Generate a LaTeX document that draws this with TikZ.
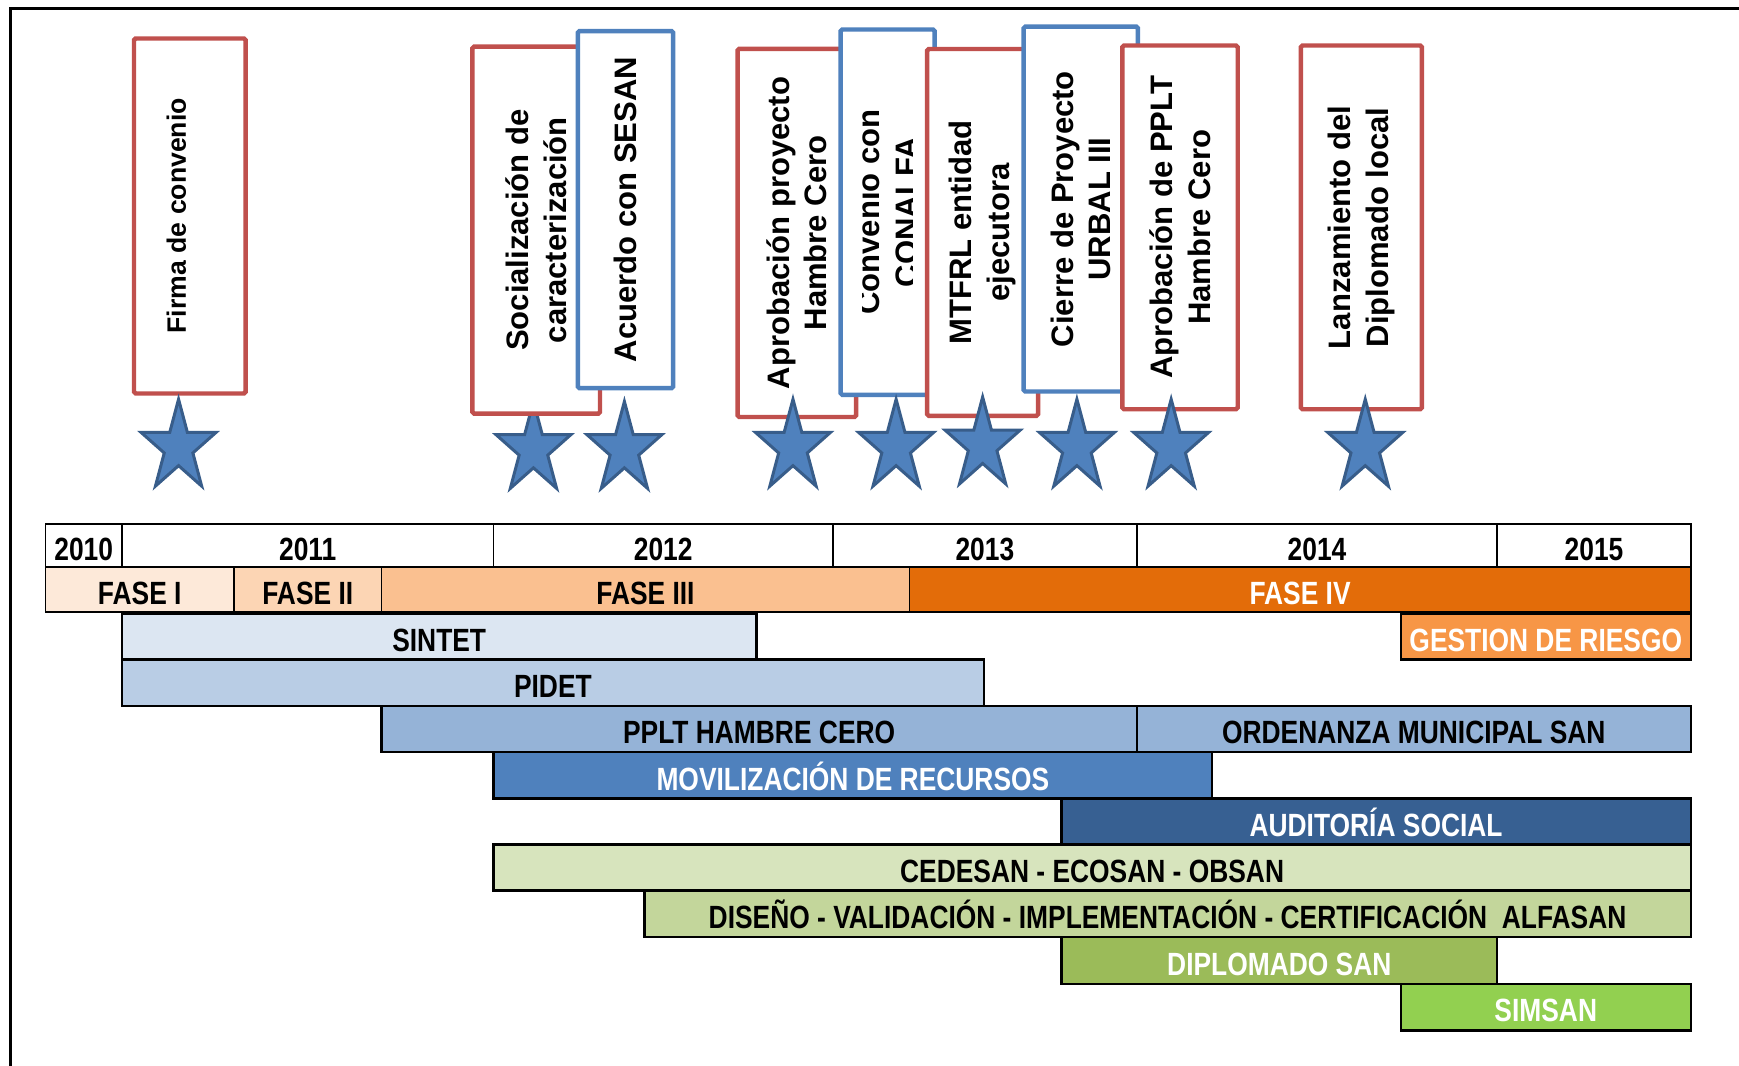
\documentclass[tikz,border=0pt]{standalone}
\usepackage{fontspec}
\usetikzlibrary{shapes.geometric}
\newfontfamily\barfont{Liberation Sans}[FakeStretch=0.82]
\newfontfamily\boxfont{Liberation Sans}
\definecolor{cred}{HTML}{C0504D}
\definecolor{cblue}{HTML}{4F81BD}
\definecolor{starfill}{HTML}{4F81BD}
\definecolor{stardark}{HTML}{385D8A}
\definecolor{faseA}{HTML}{FDE9D9}
\definecolor{faseB}{HTML}{FCD5B4}
\definecolor{faseC}{HTML}{FAC090}
\definecolor{faseD}{HTML}{E36C09}
\definecolor{riesgo}{HTML}{F79646}
\definecolor{blueA}{HTML}{DCE6F2}
\definecolor{blueB}{HTML}{B9CDE5}
\definecolor{blueC}{HTML}{95B3D7}
\definecolor{blueD}{HTML}{4F81BD}
\definecolor{blueE}{HTML}{376092}
\definecolor{greenA}{HTML}{D7E4BD}
\definecolor{greenB}{HTML}{C3D69B}
\definecolor{greenC}{HTML}{9BBB59}
\definecolor{greenD}{HTML}{92D050}
\newcommand\mkbar[9]{%
  \pgfmathsetmacro\mkw{#4-#2}%
  \pgfmathsetmacro\mkh{#5-#3}%
  \node[#9, fill=#6, text=#7, minimum width=\mkw pt, minimum height=\mkh pt] (#1) at ({(#2+#4)/2},{(#3+#5)/2}) {#8};}
\newcommand\mkbox[6]{%
  \pgfmathsetmacro\mkw{#4-#2}%
  \pgfmathsetmacro\mkh{#5-#3}%
  \node[cbox, draw=#6, minimum width=\mkw pt, minimum height=\mkh pt] (#1) at ({(#2+#4)/2},{(#3+#5)/2}) {};}
\newcommand\mkstar[3]{%
  \begin{scope}[shift={(#2,#3+43.3)}]
    \node[starsty] (#1) at (0,0) {};
  \end{scope}}
\begin{document}
\begin{tikzpicture}[x=1pt,y=-1pt,
  barsty/.style={draw=black, line width=2.2pt, inner sep=0pt, outer sep=0pt,
    font=\barfont\bfseries\fontsize{29}{30}\selectfont, text height=27pt, text depth=0.2pt},
  cellsty/.style={barsty, line width=1.6pt},
  cbox/.style={fill=white, line width=4pt, rounded corners=1.5pt, inner sep=0pt},
  ctext/.style={rotate=90, align=center, inner sep=0pt, text=black,
    font=\boxfont\bfseries\fontsize{28}{34}\selectfont},
  starsty/.style={star, star points=5, star point ratio=2.618, minimum size=71pt,
    inner sep=0pt, outer sep=0pt, yscale=1.22, transform shape,
    fill=starfill, draw=stardark, line width=2.7pt}]
\useasboundingbox (0,0) rectangle (1568,961);
% frame
\draw[line width=2.5pt] (9.5,961) -- (9.5,8) -- (1568,8);

% star behind box 2
\mkstar{s2}{481}{362}

% callout boxes
\mkbox{b1}{120.8}{34.7}{221.4}{354.8}{cred}
\node[ctext, font=\boxfont\bfseries\fontsize{24}{29}\selectfont] (t1) at (159,194.5) {Firma de convenio};
\mkbox{b2}{426}{42}{541}{373}{cred}
\node[ctext] (t2) at (b2.center) {Socialización de\\caracterización};
\mkbox{b3}{521}{28}{607}{350}{cblue}
\node[ctext] (t3) at (b3.center) {Acuerdo con SESAN};
\mkbox{b4}{665}{44}{772}{376}{cred}
\node[ctext] (t4) at (b4.center) {Aprobación proyecto\\Hambre Cero};
\mkbox{b5}{758}{26.6}{842.7}{356}{cblue}
\begin{scope}
  \clip (778,30) rectangle (823,352);
  \node[ctext] (t5) at (b5.center) {Convenio con\\CONALFA};
\end{scope}
\mkbox{b6}{836}{44.2}{936}{375}{cred}
\node[ctext] (t6) at (b6.center) {MTFRL entidad\\ejecutora};
\mkbox{b7}{923}{24}{1026}{353}{cblue}
\node[ctext] (t7) at (b7.center) {Cierre de Proyecto\\URBAL III};
\mkbox{b8}{1012}{41}{1116}{369}{cred}
\node[ctext] (t8) at (b8.center) {Aprobación de PPLT\\Hambre Cero};
\mkbox{b9}{1173}{41}{1282}{369}{cred}
\node[ctext] (t9) at (b9.center) {Lanzamiento del\\Diplomado local};

% stars
\mkstar{s1}{161}{360}
\mkstar{s3}{563}{362}
\mkstar{s4}{715}{360}
\mkstar{s5}{808}{360}
\mkstar{s6}{886}{358}
\mkstar{s7}{971}{360}
\mkstar{s8}{1056}{360}
\mkstar{s9}{1231}{360}

% year row
\mkbar{y10}{41}{472.5}{110}{511}{white}{black}{2010}{cellsty}
\mkbar{y11}{110}{472.5}{445}{511}{white}{black}{2011}{cellsty}
\mkbar{y12}{445}{472.5}{751}{511}{white}{black}{2012}{cellsty}
\mkbar{y13}{751}{472.5}{1025}{511}{white}{black}{2013}{cellsty}
\mkbar{y14}{1025}{472.5}{1350}{511}{white}{black}{2014}{cellsty}
\mkbar{y15}{1350}{472.5}{1524.5}{511}{white}{black}{2015}{cellsty}
% phases
\mkbar{f1}{41}{511}{211}{552}{faseA}{black}{FASE I}{cellsty}
\mkbar{f2}{211}{511}{344}{552}{faseB}{black}{FASE II}{cellsty}
\mkbar{f3}{344}{511}{820}{552}{faseC}{black}{FASE III}{cellsty}
\mkbar{f4}{820}{511}{1524.5}{552}{faseD}{white}{FASE IV}{cellsty}
% activities
\mkbar{sintet}{110}{553}{682}{594.5}{blueA}{black}{SINTET}{barsty}
\mkbar{riesgo}{1263}{553}{1524.5}{594.5}{riesgo}{white}{GESTION DE RIESGO}{barsty}
\mkbar{pidet}{110}{594.5}{887}{636.5}{blueB}{black}{PIDET}{barsty}
\mkbar{pplt}{344}{636.5}{1025}{678}{blueC}{black}{PPLT HAMBRE CERO}{barsty}
\mkbar{orden}{1025}{636.5}{1524.5}{678}{blueC}{black}{ORDENANZA MUNICIPAL SAN}{barsty}
\mkbar{movil}{445}{678}{1093}{720}{blueD}{white}{MOVILIZACIÓN DE RECURSOS}{barsty}
\mkbar{audit}{957}{720}{1524.5}{761.5}{blueE}{white}{AUDITORÍA SOCIAL}{barsty}
\mkbar{cedesan}{445}{761.5}{1524.5}{803}{greenA}{black}{CEDESAN - ECOSAN - OBSAN}{barsty}
\mkbar{alfasan}{581}{803}{1524.5}{845}{greenB}{black}{DISEÑO - VALIDACIÓN - IMPLEMENTACIÓN - CERTIFICACIÓN\ \ ALFASAN}{barsty}
\mkbar{diplo}{957}{845}{1350}{887}{greenC}{white}{DIPLOMADO SAN}{barsty}
\mkbar{simsan}{1263}{887}{1524.5}{929}{greenD}{white}{SIMSAN}{barsty}
\end{tikzpicture}
\end{document}
